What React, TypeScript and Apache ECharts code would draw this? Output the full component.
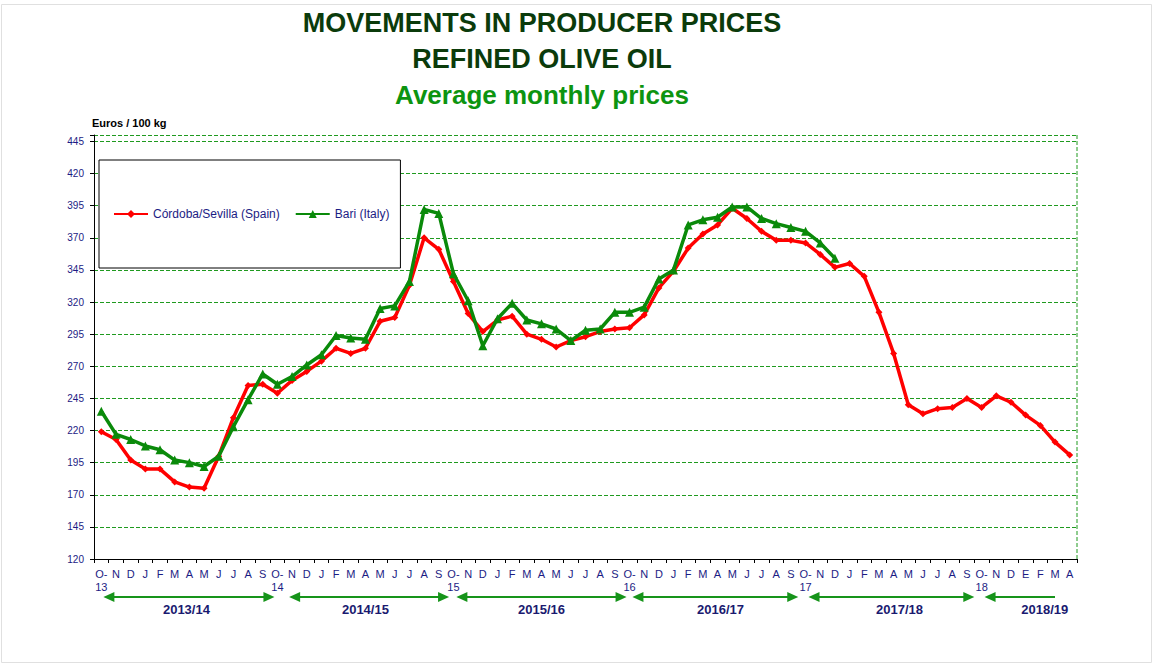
import React, { useEffect, useRef } from "react";
import * as echarts from "echarts";

const monthLabels = [
  "O-\n13", "N", "D", "J", "F", "M", "A", "M", "J", "J", "A", "S",
  "O-\n14", "N", "D", "J", "F", "M", "A", "M", "J", "J", "A", "S",
  "O-\n15", "N", "D", "J", "F", "M", "A", "M", "J", "J", "A", "S",
  "O-\n16", "N", "D", "J", "F", "M", "A", "M", "J", "J", "A", "S",
  "O-\n17", "N", "D", "J", "F", "M", "A", "M", "J", "J", "A", "S",
  "O-\n18", "N", "D", "E", "F", "M", "A",
];

const spainPrices = [
  219, 213, 197, 190, 190, 180, 176, 175, 200, 230, 255, 256,
  249, 259, 266, 274, 284, 280, 284, 305, 308, 333, 370, 361,
  336, 311, 297, 306, 309, 295, 291, 285, 290, 293, 297, 299,
  300, 310, 331, 344, 362, 373, 380, 393, 385, 375, 368, 368,
  366, 357, 347, 350, 340, 312, 280, 240, 233, 237, 238, 245,
  238, 247, 242, 232, 224, 211, 201,
];

const italyPrices = [
  235, 217, 213, 208, 205, 197, 195, 192, 200, 223, 244, 264,
  256, 262, 271, 279, 294, 292, 291, 315, 317, 336, 392, 389,
  342, 321, 286, 307, 319, 306, 303, 299, 290, 298, 299, 312,
  312, 316, 338, 345, 380, 384, 386, 394, 394, 385, 381, 378,
  375, 366, 354,
];

const seriesNames = ["Córdoba/Sevilla (Spain)", "Bari (Italy)"];

const seasonLabels = ["2013/14", "2014/15", "2015/16", "2016/17", "2017/18", "2018/19"];
// arrow extents in category-index units
const seasonStart = [0.14, 12.8, 24.2, 36.2, 48.2, 60.2];
const seasonEnd = [11.8, 23.7, 35.8, 47.5, 59.5, 65.0];
const seasonRightHead = [true, true, true, true, true, false];
const seasonLabelAt = [5.8, 18, 30, 42.2, 54.4, 64.3];

const FONT = '"Liberation Sans", Arial, sans-serif';
const NAVY = "#1c1c84";
const GRID_GREEN = "#1f9a1f";

export default function App() {
  const ref = useRef<HTMLDivElement>(null);

  useEffect(() => {
    if (!ref.current) return;
    const chart = echarts.init(ref.current, undefined, { renderer: "svg" });

    const W = 1154;
    const H = 666;
    const gl = 94;
    const gr = 77;
    const gt = 135;
    const gb = 107;
    const plotW = W - gl - gr;
    const bw = plotW / monthLabels.length;
    const cx = (idx: number) => gl + (idx + 0.5) * bw;

    const arrowY = 597;
    const arrowColor = "#16941a";
    const graphics: any[] = [];

    graphics.push({
      type: "rect",
      shape: { x: 1.5, y: 4.5, width: 1150, height: 658 },
      style: { fill: "none", stroke: "#e0e0e0", lineWidth: 1 },
      silent: true,
    });

    graphics.push(
      {
        type: "text",
        x: 542,
        y: 23,
        style: {
          text: "MOVEMENTS IN PRODUCER PRICES",
          fill: "#0b3b0b",
          fontSize: 27,
          fontWeight: "bold",
          fontFamily: FONT,
          align: "center",
          verticalAlign: "middle",
        },
      },
      {
        type: "text",
        x: 542,
        y: 59,
        style: {
          text: "REFINED OLIVE OIL",
          fill: "#0b3b0b",
          fontSize: 27,
          fontWeight: "bold",
          fontFamily: FONT,
          align: "center",
          verticalAlign: "middle",
        },
      },
      {
        type: "text",
        x: 542,
        y: 95,
        style: {
          text: "Average monthly prices",
          fill: "#0c9410",
          fontSize: 26,
          fontWeight: "bold",
          fontFamily: FONT,
          align: "center",
          verticalAlign: "middle",
        },
      },
      {
        type: "text",
        x: 92,
        y: 123,
        style: {
          text: "Euros / 100 kg",
          fill: "#000",
          fontSize: 11,
          fontWeight: "bold",
          fontFamily: FONT,
          align: "left",
          verticalAlign: "middle",
        },
      },
      {
        type: "line",
        shape: { x1: W - gr, y1: gt, x2: W - gr, y2: H - gb },
        style: { stroke: GRID_GREEN, lineWidth: 1, lineDash: [4, 2] },
        silent: true,
      }
    );

    seasonLabels.forEach((lab, i) => {
      const xs = cx(seasonStart[i]);
      const xe = cx(seasonEnd[i]);
      graphics.push({
        type: "line",
        shape: { x1: xs + 4, y1: arrowY, x2: seasonRightHead[i] ? xe - 4 : xe, y2: arrowY },
        style: { stroke: arrowColor, lineWidth: 2 },
        silent: true,
      });
      graphics.push({
        type: "polygon",
        shape: { points: [[xs, arrowY], [xs + 11, arrowY - 5], [xs + 11, arrowY + 5]] },
        style: { fill: arrowColor },
        silent: true,
      });
      if (seasonRightHead[i]) {
        graphics.push({
          type: "polygon",
          shape: { points: [[xe, arrowY], [xe - 11, arrowY - 5], [xe - 11, arrowY + 5]] },
          style: { fill: arrowColor },
          silent: true,
        });
      }
      graphics.push({
        type: "text",
        x: cx(seasonLabelAt[i]),
        y: 609,
        style: {
          text: lab,
          fill: "#1a1a70",
          fontSize: 13,
          fontWeight: "bold",
          fontFamily: FONT,
          align: "center",
          verticalAlign: "middle",
        },
      });
    });

    chart.setOption({
      animation: false,
      backgroundColor: "#ffffff",
      textStyle: { fontFamily: FONT },
      grid: { left: gl, right: gr, top: gt, bottom: gb, containLabel: false },
      legend: {
        data: seriesNames,
        left: 99,
        top: 160,
        orient: "horizontal",
        borderColor: "#000",
        borderWidth: 1,
        padding: [48, 11, 48, 14],
        itemGap: 15,
        itemWidth: 34,
        itemHeight: 10,
        textStyle: { color: NAVY, fontSize: 12, fontFamily: FONT },
        backgroundColor: "#fff",
      },
      xAxis: {
        type: "category",
        data: monthLabels,
        boundaryGap: true,
        axisLine: { lineStyle: { color: "#000", width: 1 } },
        axisTick: { show: true, interval: 0, length: 4, lineStyle: { color: "#000" } },
        axisLabel: {
          interval: 0,
          color: NAVY,
          fontSize: 11,
          fontFamily: FONT,
          margin: 8,
          lineHeight: 13,
        },
        splitLine: { show: false },
      },
      yAxis: {
        type: "value",
        min: 120,
        max: 450,
        interval: 25,
        axisLine: { show: true, lineStyle: { color: "#000", width: 1 } },
        axisTick: { show: true, length: 4, lineStyle: { color: "#000" } },
        axisLabel: {
          color: NAVY,
          fontSize: 10,
          fontFamily: FONT,
          margin: 10,
          formatter: (v: number) => (v === 450 ? "" : String(v)),
        },
        splitLine: {
          show: true,
          lineStyle: { color: GRID_GREEN, width: 1, type: [4, 2] },
        },
      },
      series: [
        {
          name: seriesNames[0],
          type: "line",
          data: spainPrices,
          symbol: "diamond",
          symbolSize: 7,
          showAllSymbol: true,
          lineStyle: { color: "#ff0000", width: 3.5 },
          itemStyle: { color: "#ff0000" },
          z: 3,
        },
        {
          name: seriesNames[1],
          type: "line",
          data: italyPrices,
          symbol: "triangle",
          symbolSize: 9,
          showAllSymbol: true,
          lineStyle: { color: "#0a8a0a", width: 3.5 },
          itemStyle: { color: "#0a8a0a" },
          z: 4,
        },
      ],
      graphic: graphics,
    });

    return () => chart.dispose();
  }, []);

  return (
    <div
      ref={ref}
      style={{ position: "fixed", left: 0, top: 0, width: 1154, height: 666, background: "#fff" }}
    />
  );
}
